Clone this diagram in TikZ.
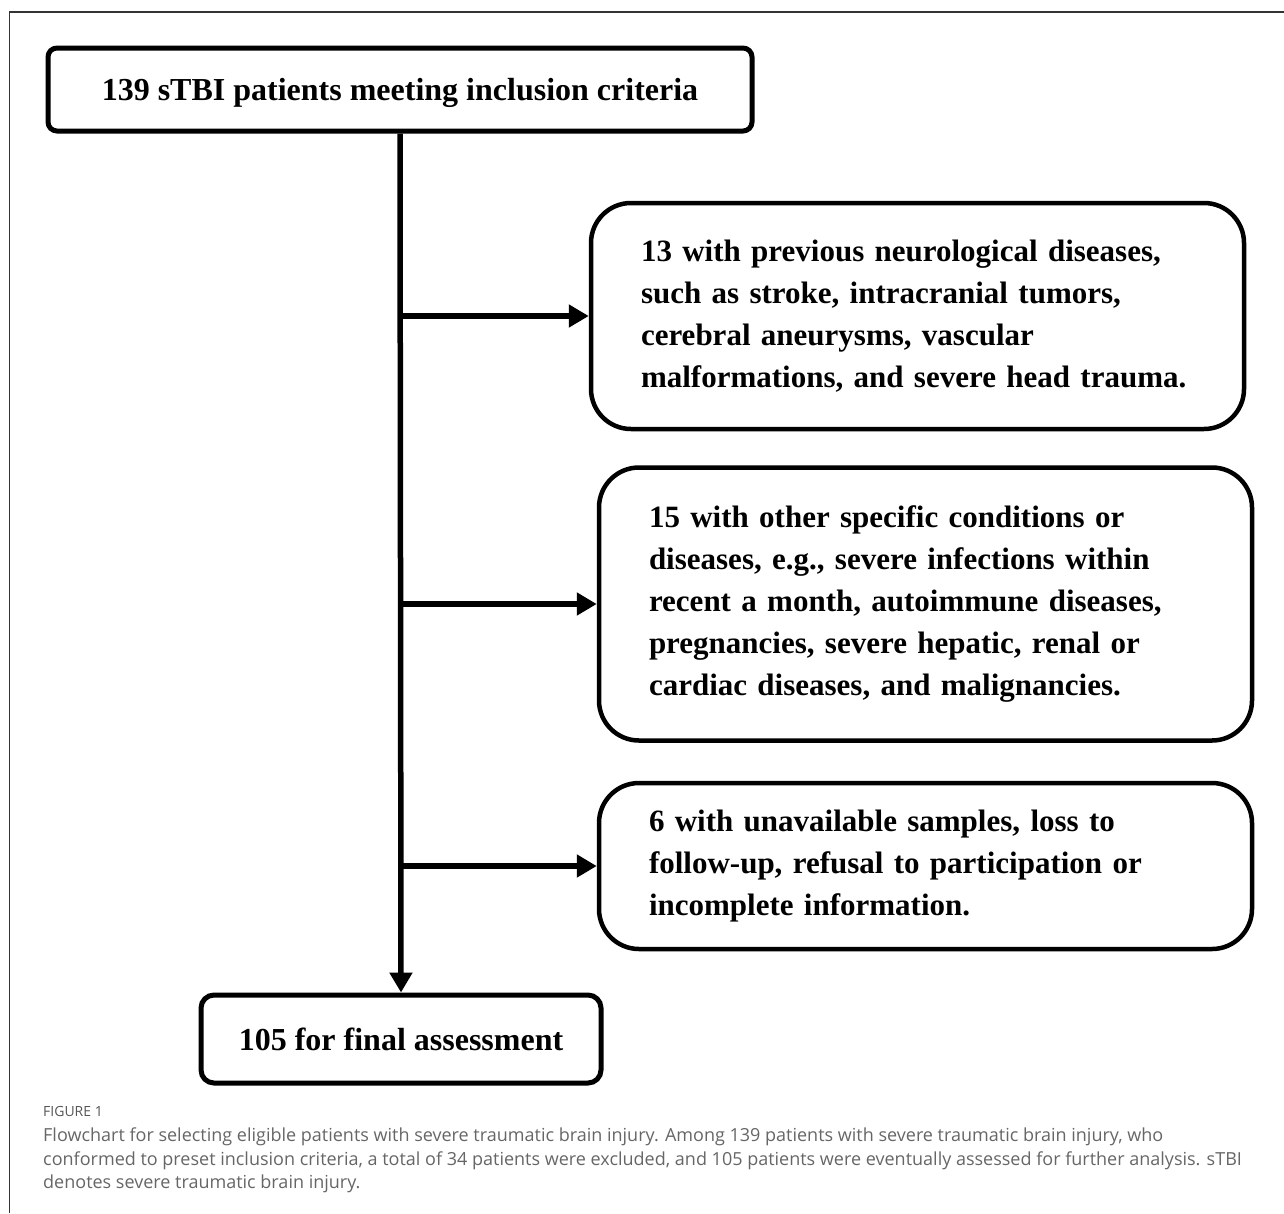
\documentclass[tikz,border=0pt]{standalone}
\usepackage{fontspec}
\setmainfont{Liberation Serif}
\newfontfamily\capfont{Open Sans}
\usetikzlibrary{arrows.meta, positioning}
\definecolor{capgray}{HTML}{666666}
\definecolor{labelgray}{HTML}{555555}
\definecolor{framegray}{HTML}{333333}

\begin{document}
\begin{tikzpicture}[x=1pt, y=-1pt,
  flowbox/.style = {draw, line width=5pt, rounded corners=9pt, inner sep=0pt,
    font=\bfseries\fontsize{32}{38}\selectfont},
  exclbox/.style = {draw, line width=4.5pt, rounded corners=40pt, inner xsep=50pt,
    text width=553pt, align=left, font=\bfseries\fontsize{31}{42}\selectfont},
  flowarrow/.style = {line width=5.5pt, -{Triangle[length=20pt, width=22pt]}}
]

\useasboundingbox (0,0) rectangle (1284,1213);
\draw[framegray, line width=1.5pt] (9.5,1213) -- (9.5,12) -- (1284,12);

\node[flowbox, minimum width=704pt, minimum height=83pt, text depth=0pt] (start) at (400,89.5)
  {139 sTBI patients meeting inclusion criteria};
\node[exclbox, minimum height=226pt] (excl1) at (917.5,316)
  {13 with previous neurological diseases,\\
   such as stroke, intracranial tumors,\\
   cerebral aneurysms, vascular\\
   malformations, and severe head trauma.};
\node[exclbox, minimum height=273pt] (excl2) at (925.5,604)
  {15 with other specific conditions or\\
   diseases, e.g., severe infections within\\
   recent a month, autoimmune diseases,\\
   pregnancies, severe hepatic, renal or\\
   cardiac diseases, and malignancies.};
\node[exclbox, minimum height=166pt] (excl3) at (925.5,866)
  {6 with unavailable samples, loss to\\
   follow-up, refusal to participation or\\
   incomplete information.};
\node[flowbox, minimum width=400pt, minimum height=88pt, rounded corners=13pt] (final) at (401,1039)
  {105 for final assessment};

\draw[flowarrow] (start.south) -- (final.north);
\foreach \n in {excl1, excl2, excl3}
  \draw[flowarrow] (start.south |- \n.west) -- (\n.west);

\node[anchor=west, inner sep=0pt, text=labelgray, font=\capfont\fontsize{14}{16}\selectfont] (figlabel) at (43,1111) {FIGURE 1};
\node[anchor=north west, inner sep=0pt, align=left, text=capgray,
  font=\capfont\fontsize{18}{23.5}\selectfont] (caption) at (43,1128)
  {Flowchart for selecting eligible patients with severe traumatic brain injury. Among 139 patients with severe traumatic brain injury, who\\
   conformed to preset inclusion criteria, a total of 34 patients were excluded, and 105 patients were eventually assessed for further analysis. sTBI\\
   denotes severe traumatic brain injury.};
\end{tikzpicture}
\end{document}
